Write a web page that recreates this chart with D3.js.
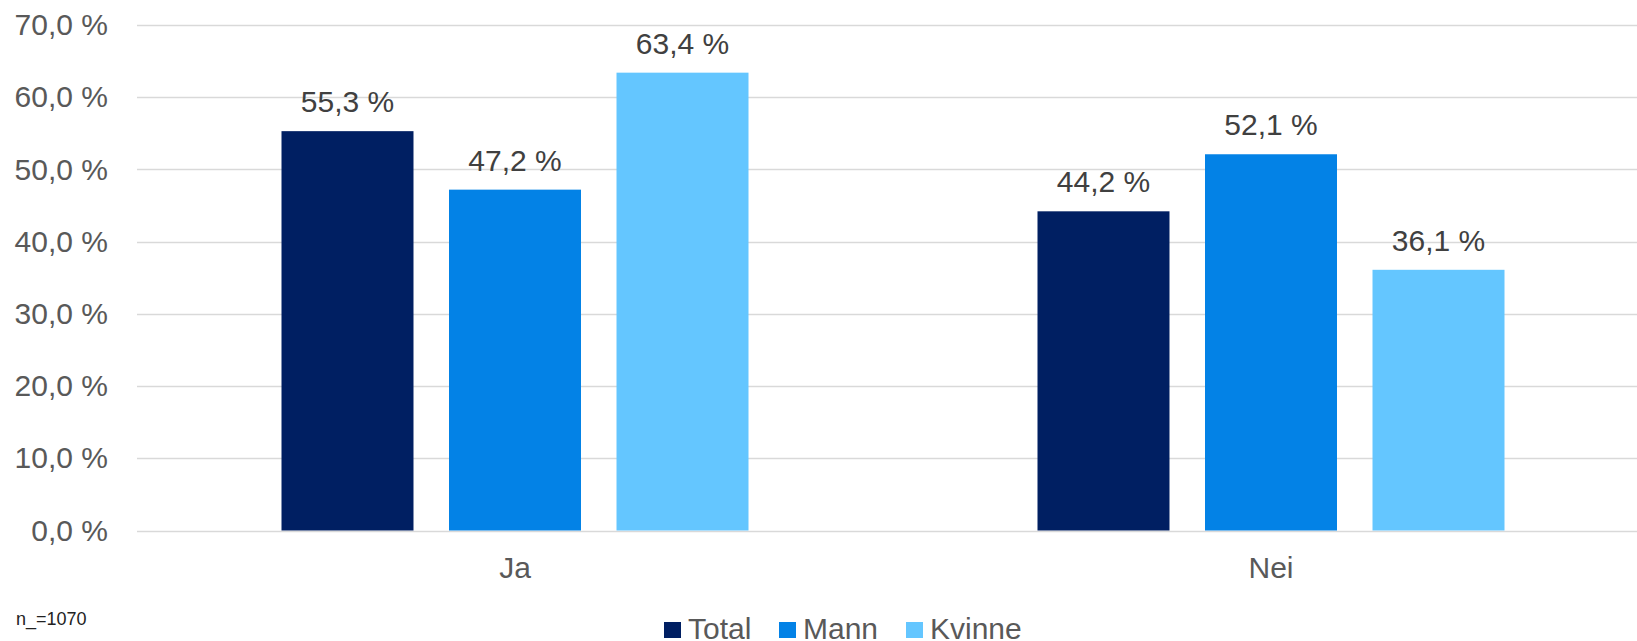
<!DOCTYPE html>
<html>
<head>
<meta charset="utf-8">
<script src="https://cdn.jsdelivr.net/npm/d3@7"></script>
<style>
  body { margin: 0; background: #fff; }
  svg { display: block; font-family: "Liberation Sans", Arial, sans-serif; }
</style>
</head>
<body>
<script>
// data
var categories = ['Ja', 'Nei'];
var seriesNames = ['Total', 'Mann', 'Kvinne'];
var seriesColors = ['#001F62', '#0382E6', '#64C6FF'];
var total = [55.3, 44.2];
var mann = [47.2, 52.1];
var kvinne = [63.4, 36.1];
var yTicks = [0, 10, 20, 30, 40, 50, 60, 70];
var note = 'n_=1070';

var values = [total, mann, kvinne];

var width = 1637, height = 641;
var margin = { top: 25, right: -12, bottom: 110, left: 137 };

var svg = d3.select('body').append('svg')
    .attr('width', width)
    .attr('height', height);

var x = d3.scaleBand()
    .domain(categories)
    .range([margin.left, width - margin.right]);

var x1 = d3.scaleBand()
    .domain(seriesNames)
    .range([0, 467])
    .paddingInner(0.212);

var y = d3.scaleLinear()
    .domain([0, 70])
    .range([height - margin.bottom - 0.5, margin.top]);

var fmt = function (v) { return d3.format('.1f')(v).replace('.', ',') + ' %'; };

// gridlines
svg.append('g').selectAll('line')
    .data(yTicks)
    .join('line')
    .attr('x1', margin.left)
    .attr('x2', width - margin.right)
    .attr('y1', function (d) { return Math.round(y(d)) + 0.5; })
    .attr('y2', function (d) { return Math.round(y(d)) + 0.5; })
    .attr('stroke', '#d9d9d9')
    .attr('stroke-width', 1.6);

// y axis labels
var yAxis = d3.axisLeft(y).tickValues(yTicks).tickFormat(fmt).tickSize(0).tickPadding(29);
svg.append('g')
    .attr('transform', 'translate(' + margin.left + ',0)')
    .call(yAxis)
    .call(function (g) { g.select('.domain').remove(); })
    .selectAll('text')
    .attr('font-size', 30)
    .attr('font-family', '"Liberation Sans", Arial, sans-serif')
    .attr('fill', '#595959');

// bars
var groups = svg.append('g').selectAll('g')
    .data(categories)
    .join('g')
    .attr('transform', function (d) { return 'translate(' + (x(d) + x.bandwidth() / 2 - 233.5) + ',0)'; });

seriesNames.forEach(function (s, si) {
    groups.append('rect')
        .attr('x', x1(s))
        .attr('width', x1.bandwidth())
        .attr('y', function (d, i) { return y(values[si][i]); })
        .attr('height', function (d, i) { return y(0) - y(values[si][i]); })
        .attr('fill', seriesColors[si]);

    groups.append('text')
        .attr('x', x1(s) + x1.bandwidth() / 2)
        .attr('y', function (d, i) { return y(values[si][i]) - 19; })
        .attr('text-anchor', 'middle')
        .attr('font-size', 30)
        .attr('fill', '#404040')
        .text(function (d, i) { return fmt(values[si][i]); });
});

// x axis labels
var xAxis = d3.axisBottom(x).tickSize(0).tickPadding(26);
svg.append('g')
    .attr('transform', 'translate(0,' + y(0) + ')')
    .call(xAxis)
    .call(function (g) { g.select('.domain').remove(); })
    .selectAll('text')
    .attr('font-size', 30)
    .attr('font-family', '"Liberation Sans", Arial, sans-serif')
    .attr('fill', '#595959');

// note
svg.append('text')
    .attr('x', 16)
    .attr('y', 625)
    .attr('font-size', 18)
    .attr('fill', '#222')
    .text(note);

// legend
var legendX = [664, 779, 906];
var legend = svg.append('g').selectAll('g')
    .data(seriesNames)
    .join('g')
    .attr('transform', function (d, i) { return 'translate(' + legendX[i] + ',622)'; });

legend.append('rect')
    .attr('width', 17)
    .attr('height', 16)
    .attr('fill', function (d, i) { return seriesColors[i]; });

legend.append('text')
    .attr('x', 24)
    .attr('y', 17)
    .attr('font-size', 30)
    .attr('fill', '#595959')
    .text(function (d) { return d; });
</script>
</body>
</html>
